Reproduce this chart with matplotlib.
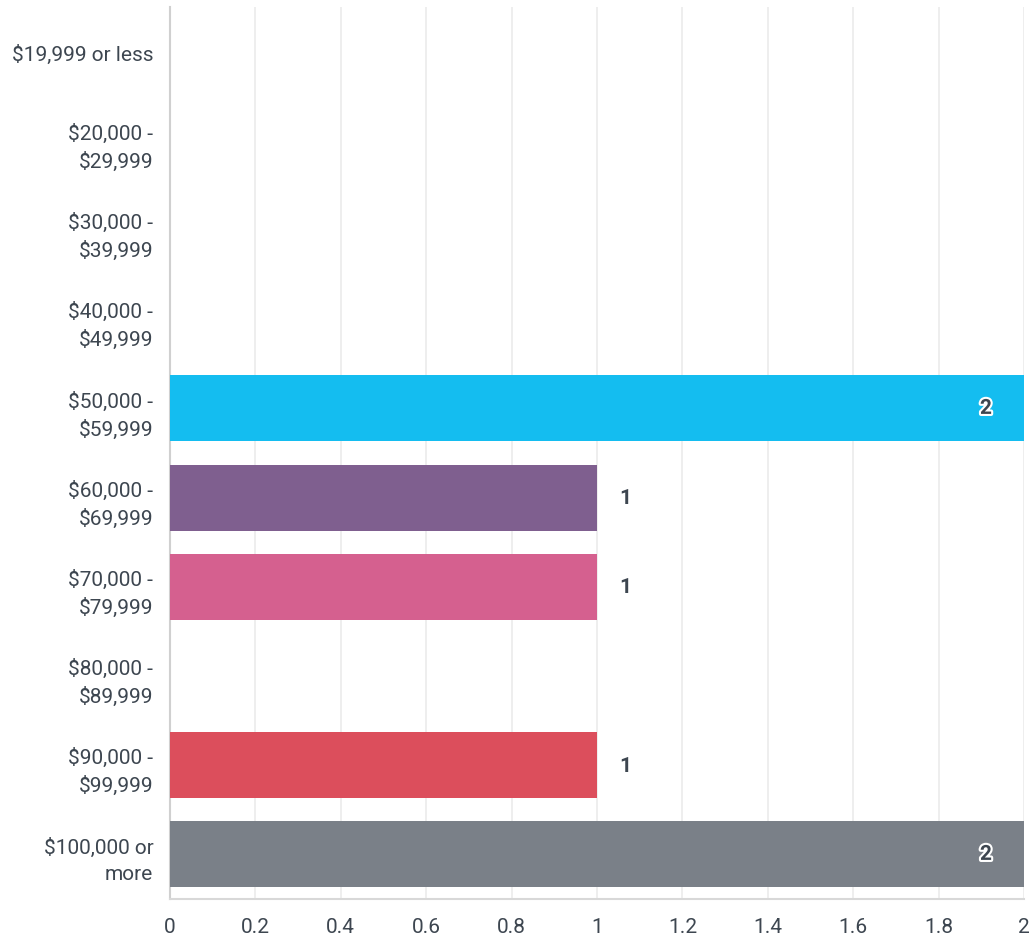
import matplotlib.pyplot as plt
import matplotlib.patheffects as pe
import numpy as np

categories = ["$19,999 or less", "$20,000 -\n$29,999", "$30,000 -\n$39,999",
              "$40,000 -\n$49,999", "$50,000 -\n$59,999", "$60,000 -\n$69,999",
              "$70,000 -\n$79,999", "$80,000 -\n$89,999", "$90,000 -\n$99,999",
              "$100,000 or\nmore"]
values = [0, 0, 0, 0, 2, 1, 1, 0, 1, 2]
colors = ["#14bdf0", "#14bdf0", "#14bdf0", "#14bdf0", "#14bdf0", "#7f5f8f",
          "#d5608f", "#14bdf0", "#dc4e5c", "#7a8088"]
xticks = [0, 0.2, 0.4, 0.6, 0.8, 1, 1.2, 1.4, 1.6, 1.8, 2]

plt.rcParams['font.family'] = ['Roboto', 'DejaVu Sans']
text_col = "#3d4650"

fig = plt.figure(figsize=(10.34, 9.45), dpi=100)
ax = fig.add_axes([170 / 1034, 45 / 945, 854 / 1034, 892 / 945])

y = np.arange(len(categories))
ax.barh(y, values, height=0.74, color=colors, zorder=3)

for yi, v in zip(y, values):
    if v == 0:
        continue
    if v >= 2:
        ax.text(v - 0.075, yi, str(v), ha="right", va="center", fontsize=15,
                fontweight="bold", color=text_col, zorder=4,
                path_effects=[pe.withStroke(linewidth=3, foreground="white")])
    else:
        ax.text(v + 0.067, yi, str(v), ha="center", va="center", fontsize=15,
                fontweight="bold", color=text_col, zorder=4)

ax.set_ylim(len(categories) - 0.5, -0.5)
ax.set_xlim(0, 2)
ax.set_yticks(y)
ax.set_yticklabels(categories, ha="right", fontsize=15, color=text_col,
                   linespacing=1.5)
ax.set_xticks(xticks)
ax.set_xticklabels([f"{t:g}" for t in xticks], fontsize=15, color=text_col)
ax.tick_params(length=0)
ax.tick_params(axis="y", pad=12)
ax.tick_params(axis="x", pad=13)
ax.grid(axis="x", color="#ebebeb", linewidth=1.2, zorder=0)
for s in ["top", "right"]:
    ax.spines[s].set_visible(False)
ax.spines["left"].set_color("#d0d0d0")
ax.spines["bottom"].set_color("#d8d8d8")
ax.spines["left"].set_linewidth(1.5)
ax.spines["bottom"].set_linewidth(1.5)

fig.savefig("out.png", dpi=100)
